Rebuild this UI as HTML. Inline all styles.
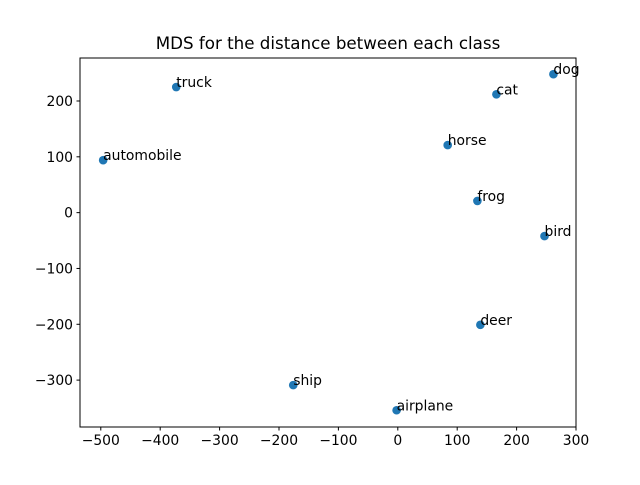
<!DOCTYPE html>
<html><head><meta charset="utf-8"><style>
html,body{margin:0;padding:0;background:#fff}
svg text{font-family:"DejaVu Sans","Liberation Sans",sans-serif}
</style></head><body>
<svg id="chart" width="640" height="480" xmlns="http://www.w3.org/2000/svg">
<rect width="640" height="480" fill="#fff"/>
</svg>
<script>
const labels=["automobile","truck","horse","cat","dog","frog","bird","deer","ship","airplane"];
const xs=[-496,-373,84,166,262,134,247,139,-176,-2];
const ys=[94,225,121,212,248,21,-42,-201,-309,-354];
const xTicks=[-500,-400,-300,-200,-100,0,100,200,300];
const yTicks=[-300,-200,-100,0,100,200];
const svg=document.getElementById('chart');
const NS='http://www.w3.org/2000/svg';
const L=80,R=576,T=58,B=427;
const xMin=-535,xMax=300,yMin=-384,yMax=277;
const sx=v=>L+(v-xMin)/(xMax-xMin)*(R-L);
const sy=v=>B-(v-yMin)/(yMax-yMin)*(B-T);
function mk(tag,attrs,parent){const e=document.createElementNS(NS,tag);for(const k in attrs)e.setAttribute(k,attrs[k]);(parent||svg).appendChild(e);return e;}
const title=mk('text',{x:(L+R)/2,y:49,'text-anchor':'middle','font-size':'16.7'});
title.textContent='MDS for the distance between each class';


const pts=mk('g',{});


labels.forEach((lb,i)=>{
  const c=mk('circle',{cx:sx(xs[i]),cy:sy(ys[i]),r:4.3,fill:'#1f77b4'},pts);
  
  
  const t=mk('text',{x:sx(xs[i]),y:sy(ys[i]),'font-size':'13.9'},pts);
  t.textContent=lb;
  
  
});
const frame=mk('rect',{x:L,y:T,width:R-L,height:B-T,fill:'none',stroke:'#000','stroke-width':1});


xTicks.forEach(v=>{
  const x=sx(v);
  const tk=mk('line',{x1:x,x2:x,y1:B,y2:B+3.5,stroke:'#000'});
  
  
  const t=mk('text',{x:x,y:B+18,'text-anchor':'middle','font-size':'13.9'});
  t.textContent=v<0?'\u2212'+(-v):v;
  
  
});
yTicks.forEach(v=>{
  const y=sy(v);
  const tk=mk('line',{x1:L-3.5,x2:L,y1:y,y2:y,stroke:'#000'});
  
  
  const t=mk('text',{x:L-7,y:y+5,'text-anchor':'end','font-size':'13.9'});
  t.textContent=v<0?'\u2212'+(-v):v;
  
  
});
</script>
</body></html>
